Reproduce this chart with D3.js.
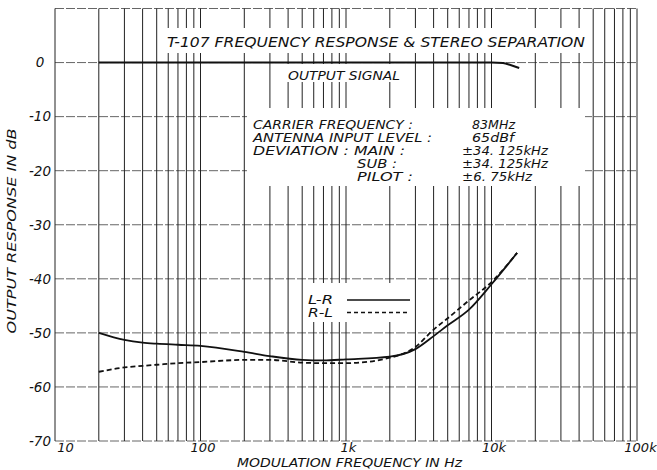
<!DOCTYPE html>
<html>
<head>
<meta charset="utf-8">
<script src="https://d3js.org/d3.v7.min.js"></script>
<style>
  body { margin: 0; background: #fff; }
  svg text { font-family: "DejaVu Sans", "Liberation Sans", sans-serif; font-style: italic; fill: #111; }
</style>
</head>
<body>
<div id="chart"></div>
<script>
// values
var freqs = [20, 30, 40, 50, 70, 100, 200, 300, 500, 700, 1000, 2000, 3000, 4000, 5000, 7000, 10000, 15000];
var leftToRight = [-50, -51.3, -51.8, -52, -52.2, -52.4, -53.5, -54.3, -55, -55.1, -54.9, -54.4, -53.0, -50.6, -48.6, -45.7, -41, -35.2];
var rightToLeft = [-57.2, -56.4, -56.1, -55.9, -55.6, -55.4, -55.0, -55.0, -55.5, -55.6, -55.6, -54.6, -52.6, -49.4, -47.3, -44.0, -40.6, -35.2];

var outFreqs = [20, 1000, 10000, 12000, 13500, 15500];
var outLevel = [0, 0, 0, -0.1, -0.45, -1.0];

var yTicks = [0, -10, -20, -30, -40, -50, -60, -70];
var xTickValues = [10, 100, 1000, 10000, 100000];
var xTickLabels = ["10", "100", "1k", "10k", "100k"];

var infoLabels = ["CARRIER FREQUENCY :", "ANTENNA INPUT LEVEL :", "DEVIATION : MAIN :", "SUB :", "PILOT :"];
var infoValues = ["83MHz", "65dBf", "\u00b134. 125kHz", "\u00b134. 125kHz", "\u00b16. 75kHz"];

// plot frame
var W = 657, H = 470;
var margin = {left: 55, right: 637, top: 8.5, bottom: 441};

var x = d3.scaleLog().domain([10, 100000]).range([margin.left, margin.right]);
var y = d3.scaleLinear().domain([-70, 10]).range([margin.bottom, margin.top]);

var svg = d3.select("#chart").append("svg")
    .attr("width", W)
    .attr("height", H);

// horizontal grid
svg.append("g").selectAll("line")
    .data(d3.range(-70, 11, 10))
    .enter().append("line")
    .attr("x1", margin.left).attr("x2", margin.right)
    .attr("y1", function(d) { return y(d); })
    .attr("y2", function(d) { return y(d); })
    .attr("stroke", "#666")
    .attr("stroke-width", 1)
    .attr("stroke-dasharray", "9,2");

// vertical grid (log decades, nothing between 10 and 20)
svg.append("g").selectAll("line")
    .data(x.ticks().filter(function(d) { return d >= 20; }))
    .enter().append("line")
    .attr("x1", function(d) { return x(d); })
    .attr("x2", function(d) { return x(d); })
    .attr("y1", margin.top).attr("y2", margin.bottom)
    .attr("stroke", "#222")
    .attr("stroke-width", 1);

// left frame
svg.append("line")
    .attr("x1", margin.left).attr("x2", margin.left)
    .attr("y1", margin.top).attr("y2", margin.bottom)
    .attr("stroke", "#222");

// white boxes behind the texts cut the grid
var boxes = [
  [160, 28, 432, 25],
  [282, 64, 126, 18],
  [247, 108, 338, 78],
  [304, 283, 110, 39]
];
svg.append("g").selectAll("rect")
    .data(boxes)
    .enter().append("rect")
    .attr("x", function(d) { return d[0]; })
    .attr("y", function(d) { return d[1]; })
    .attr("width", function(d) { return d[2]; })
    .attr("height", function(d) { return d[3]; })
    .attr("fill", "#fff");

// axes labels
var yAxis = svg.append("g")
    .attr("transform", "translate(" + margin.left + ",0)")
    .call(d3.axisLeft(y).tickValues(yTicks).tickSize(0).tickFormat(function(d) { return String(d); }));
yAxis.select(".domain").remove();
yAxis.selectAll("text")
    .attr("x", -15)
    .attr("text-anchor", "middle")
    .style("font-size", "13.5px");

var xAxis = svg.append("g")
    .attr("transform", "translate(0," + margin.bottom + ")")
    .call(d3.axisBottom(x).tickValues(xTickValues).tickSize(0).tickPadding(2)
      .tickFormat(function(d, i) { return xTickLabels[i]; }));
xAxis.select(".domain").remove();
xAxis.selectAll("text")
    .style("font-size", "13px")
    .attr("dx", function(d, i) { return i == 0 ? 10 : (i == 4 ? 3 : 2); });

// curves
var line = d3.line()
    .x(function(d) { return x(d[0]); })
    .y(function(d) { return y(d[1]); })
    .curve(d3.curveMonotoneX);

svg.append("path")
    .datum(outFreqs.map(function(f, i) { return [f, outLevel[i]]; }))
    .attr("d", line)
    .attr("fill", "none")
    .attr("stroke", "#111")
    .attr("stroke-width", 2);

svg.append("path")
    .datum(freqs.map(function(f, i) { return [f, rightToLeft[i]]; }))
    .attr("d", line)
    .attr("fill", "none")
    .attr("stroke", "#111")
    .attr("stroke-width", 1.8)
    .attr("stroke-dasharray", "5,3");

svg.append("path")
    .datum(freqs.map(function(f, i) { return [f, leftToRight[i]]; }))
    .attr("d", line)
    .attr("fill", "none")
    .attr("stroke", "#111")
    .attr("stroke-width", 1.8);

// title
svg.append("text")
    .attr("x", 167).attr("y", 47)
    .attr("textLength", 418)
    .attr("lengthAdjust", "spacingAndGlyphs")
    .style("font-size", "13.5px")
    .text("T-107 FREQUENCY RESPONSE & STEREO SEPARATION");

svg.append("text")
    .attr("x", 288).attr("y", 80)
    .attr("textLength", 112)
    .attr("lengthAdjust", "spacingAndGlyphs")
    .style("font-size", "12.5px")
    .text("OUTPUT SIGNAL");

// measurement conditions
var infoX = [253, 253, 253, 357, 357];
var infoLen = [160, 179, 152, 40, 56];
svg.append("g").selectAll("text")
    .data(infoLabels)
    .enter().append("text")
    .attr("x", function(d, i) { return infoX[i]; })
    .attr("y", function(d, i) { return 128.5 + i * 13; })
    .attr("textLength", function(d, i) { return infoLen[i]; })
    .attr("lengthAdjust", "spacingAndGlyphs")
    .style("font-size", "12px")
    .text(function(d) { return d; });

var valX = [472, 472, 462, 462, 462];
var valLen = [43, 42, 86, 86, 70];
svg.append("g").selectAll("text")
    .data(infoValues)
    .enter().append("text")
    .attr("x", function(d, i) { return valX[i]; })
    .attr("y", function(d, i) { return 128.5 + i * 13; })
    .attr("textLength", function(d, i) { return valLen[i]; })
    .attr("lengthAdjust", "spacingAndGlyphs")
    .style("font-size", "12px")
    .text(function(d) { return d; });

// legend
svg.append("text").attr("x", 308).attr("y", 304)
    .attr("textLength", 25).attr("lengthAdjust", "spacingAndGlyphs")
    .style("font-size", "11.5px").text("L-R");
svg.append("text").attr("x", 308).attr("y", 317)
    .attr("textLength", 25).attr("lengthAdjust", "spacingAndGlyphs")
    .style("font-size", "11.5px").text("R-L");
svg.append("line")
    .attr("x1", 347).attr("x2", 410).attr("y1", 300).attr("y2", 300)
    .attr("stroke", "#111").attr("stroke-width", 1.5);
svg.append("line")
    .attr("x1", 347).attr("x2", 410).attr("y1", 312.5).attr("y2", 312.5)
    .attr("stroke", "#111").attr("stroke-width", 1.5)
    .attr("stroke-dasharray", "4,3");

// axis titles
svg.append("text")
    .attr("transform", "translate(16,231) rotate(-90)")
    .attr("text-anchor", "middle")
    .attr("textLength", 205)
    .attr("lengthAdjust", "spacingAndGlyphs")
    .style("font-size", "12.5px")
    .text("OUTPUT RESPONSE IN dB");

svg.append("text")
    .attr("x", 237).attr("y", 467)
    .attr("textLength", 225)
    .attr("lengthAdjust", "spacingAndGlyphs")
    .style("font-size", "12.5px")
    .text("MODULATION FREQUENCY IN Hz");
</script>
</body>
</html>
